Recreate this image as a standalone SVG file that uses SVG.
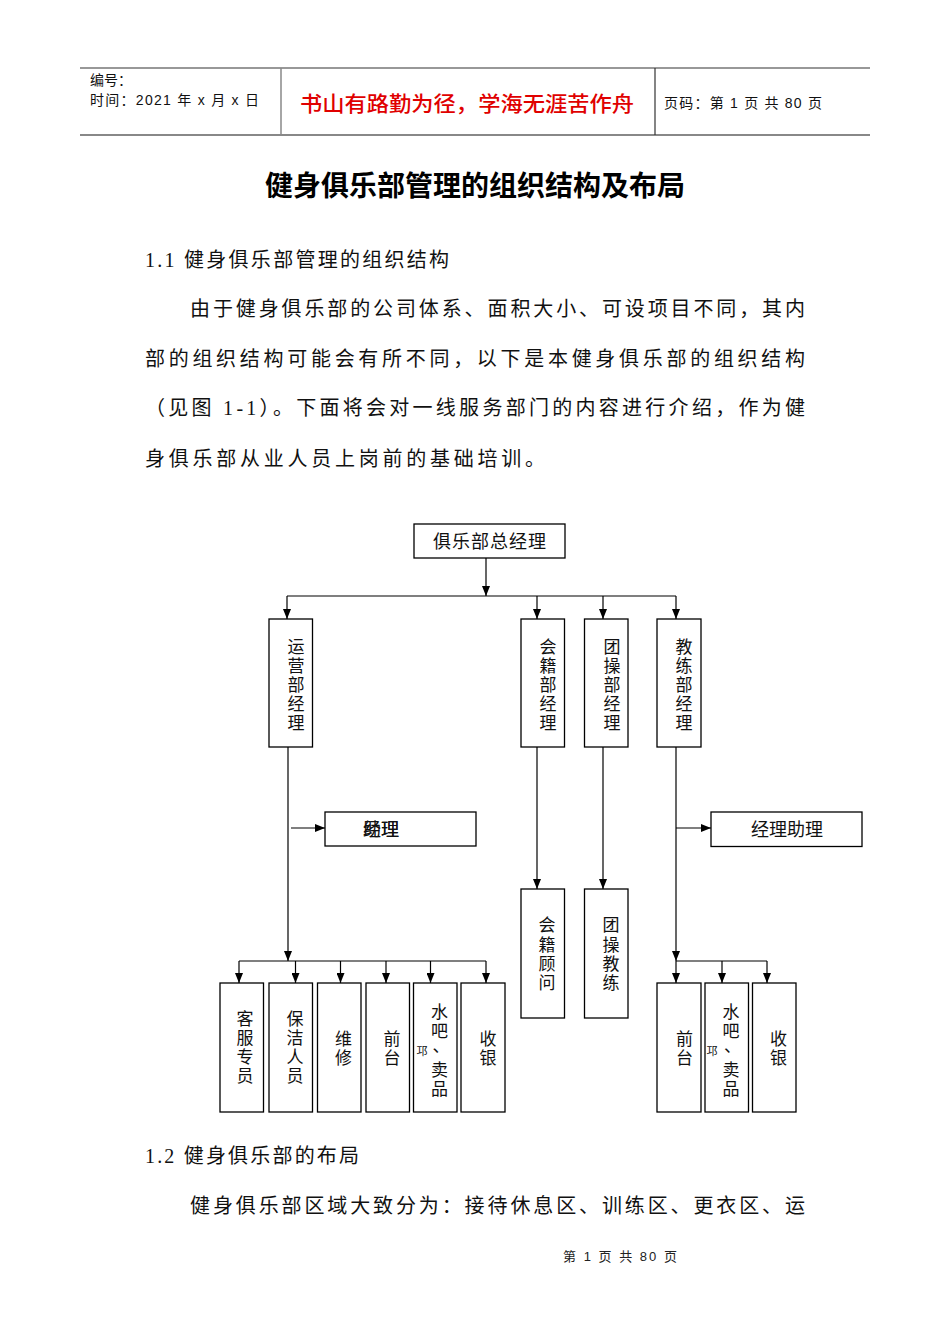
<svg xmlns="http://www.w3.org/2000/svg" width="950" height="1344" viewBox="0 0 950 1344">
<style>
.bg{fill:#fff}
.box{fill:#fff;stroke:#000;stroke-width:1.3}
.cn{font-family:"Noto Sans CJK SC",sans-serif;font-size:18px;fill:#111}
.vt{font-family:"Noto Sans CJK SC",sans-serif;font-size:17px;fill:#111;text-anchor:middle}
.body{font-family:"Liberation Serif","Noto Sans CJK SC",serif;font-size:20px;fill:#111}
.hd{font-family:"Liberation Sans","Noto Sans CJK SC",sans-serif;font-size:14px;fill:#111}
.conn{fill:none;stroke:#000;stroke-width:1.2}
</style>
<defs>
<marker id="arr" viewBox="0 0 10 8" refX="10" refY="4" markerWidth="10" markerHeight="8" markerUnits="userSpaceOnUse" orient="auto">
<path d="M0,0 L10,4 L0,8 z" fill="#000"/>
</marker>
</defs>
<rect class="bg" x="0" y="0" width="950" height="1344"/>

<g id="header">
<line x1="80" y1="68" x2="870" y2="68" stroke="#333" stroke-width="1.2"/>
<line x1="80" y1="135" x2="870" y2="135" stroke="#888" stroke-width="2"/>
<line x1="281" y1="68" x2="281" y2="135" stroke="#888" stroke-width="1.5"/>
<line x1="655" y1="68" x2="655" y2="135" stroke="#333" stroke-width="1.2"/>
<text class="hd" x="90" y="85">编号：</text>
<text class="hd" x="90" y="105" textLength="169" lengthAdjust="spacing">时间：2021 年 x 月 x 日</text>
<text x="300" y="111" textLength="334" lengthAdjust="spacingAndGlyphs" style="font-family:'Noto Sans CJK SC',sans-serif;font-size:21px;font-weight:500;fill:#e00000">书山有路勤为径，学海无涯苦作舟</text>
<text class="hd" x="664" y="108" textLength="158" lengthAdjust="spacing">页码：第 1 页  共 80 页</text>
</g>

<g id="title">
<text x="475" y="196" text-anchor="middle" style="font-family:'Noto Sans CJK SC',sans-serif;font-size:28px;font-weight:bold;fill:#000">健身俱乐部管理的组织结构及布局</text>
</g>

<g id="intro">
<text class="body" x="145" y="267" textLength="304" lengthAdjust="spacing">1.1 健身俱乐部管理的组织结构</text>
<text class="body" x="190" y="316" textLength="615" lengthAdjust="spacing">由于健身俱乐部的公司体系、面积大小、可设项目不同，其内</text>
<text class="body" x="145" y="366" textLength="660" lengthAdjust="spacing">部的组织结构可能会有所不同，以下是本健身俱乐部的组织结构</text>
<text class="body" x="145" y="415" textLength="660" lengthAdjust="spacing">（见图 1-1）。下面将会对一线服务部门的内容进行介绍，作为健</text>
<text class="body" x="145" y="466" textLength="400" lengthAdjust="spacing">身俱乐部从业人员上岗前的基础培训。</text>
</g>

<g id="connectors">
<line class="conn" x1="486" y1="558" x2="486" y2="596" marker-end="url(#arr)"/>
<line class="conn" x1="287" y1="596" x2="676" y2="596"/>
<line class="conn" x1="287" y1="596" x2="287" y2="619" marker-end="url(#arr)"/>
<line class="conn" x1="537" y1="596" x2="537" y2="619" marker-end="url(#arr)"/>
<line class="conn" x1="603" y1="596" x2="603" y2="619" marker-end="url(#arr)"/>
<line class="conn" x1="676" y1="596" x2="676" y2="619" marker-end="url(#arr)"/>
<line class="conn" x1="288" y1="747" x2="288" y2="961" marker-end="url(#arr)"/>
<line class="conn" x1="291" y1="828" x2="325" y2="828" marker-end="url(#arr)"/>
<line class="conn" x1="537" y1="747" x2="537" y2="889" marker-end="url(#arr)"/>
<line class="conn" x1="603" y1="747" x2="603" y2="889" marker-end="url(#arr)"/>
<line class="conn" x1="676" y1="747" x2="676" y2="961" marker-end="url(#arr)"/>
<line class="conn" x1="676" y1="828" x2="711" y2="828" marker-end="url(#arr)"/>
<line class="conn" x1="239" y1="961" x2="486" y2="961"/>
<line class="conn" x1="239" y1="961" x2="239" y2="983" marker-end="url(#arr)"/>
<line class="conn" x1="295.5" y1="961" x2="295.5" y2="983" marker-end="url(#arr)"/>
<line class="conn" x1="340.5" y1="961" x2="340.5" y2="983" marker-end="url(#arr)"/>
<line class="conn" x1="386" y1="961" x2="386" y2="983" marker-end="url(#arr)"/>
<line class="conn" x1="430.5" y1="961" x2="430.5" y2="983" marker-end="url(#arr)"/>
<line class="conn" x1="486" y1="961" x2="486" y2="983" marker-end="url(#arr)"/>
<line class="conn" x1="676" y1="961" x2="767" y2="961"/>
<line class="conn" x1="676" y1="961" x2="676" y2="983" marker-end="url(#arr)"/>
<line class="conn" x1="722" y1="961" x2="722" y2="983" marker-end="url(#arr)"/>
<line class="conn" x1="767" y1="961" x2="767" y2="983" marker-end="url(#arr)"/>
</g>

<g id="gm">
<rect class="box" x="414" y="524" width="151" height="34"/>
<text class="cn" x="490" y="548" text-anchor="middle" letter-spacing="1">俱乐部总经理</text>
</g>

<g id="yunying">
<rect class="box" x="269" y="619" width="43.5" height="128"/>
<text class="vt"><tspan x="296" y="653">运</tspan><tspan x="296" y="672">营</tspan><tspan x="296" y="691">部</tspan><tspan x="296" y="710">经</tspan><tspan x="296" y="729">理</tspan></text>
</g>
<g id="huiji">
<rect class="box" x="521" y="619" width="43.5" height="128"/>
<text class="vt"><tspan x="548" y="653">会</tspan><tspan x="548" y="672">籍</tspan><tspan x="548" y="691">部</tspan><tspan x="548" y="710">经</tspan><tspan x="548" y="729">理</tspan></text>
</g>
<g id="tuancao">
<rect class="box" x="584.5" y="619" width="43.5" height="128"/>
<text class="vt"><tspan x="612" y="653">团</tspan><tspan x="612" y="672">操</tspan><tspan x="612" y="691">部</tspan><tspan x="612" y="710">经</tspan><tspan x="612" y="729">理</tspan></text>
</g>
<g id="jiaolian">
<rect class="box" x="657" y="619" width="44" height="128"/>
<text class="vt"><tspan x="684" y="653">教</tspan><tspan x="684" y="672">练</tspan><tspan x="684" y="691">部</tspan><tspan x="684" y="710">经</tspan><tspan x="684" y="729">理</tspan></text>
</g>

<g id="assistant-left">
<rect class="box" x="325" y="812" width="151" height="34"/>
<text class="cn" x="363" y="836">经理</text>
<text class="cn" x="363" y="836">助理</text>
</g>
<g id="assistant-right">
<rect class="box" x="711" y="812" width="151" height="34.5"/>
<text class="cn" x="787" y="836" text-anchor="middle">经理助理</text>
</g>

<g id="huiji-guwen">
<rect class="box" x="521" y="889" width="43.5" height="129"/>
<text class="vt"><tspan x="547" y="931">会</tspan><tspan x="547" y="951">籍</tspan><tspan x="547" y="970">顾</tspan><tspan x="547" y="989">问</tspan></text>
</g>
<g id="tuancao-jiaolian">
<rect class="box" x="584.5" y="889" width="43.5" height="129"/>
<text class="vt"><tspan x="611" y="931">团</tspan><tspan x="611" y="951">操</tspan><tspan x="611" y="970">教</tspan><tspan x="611" y="989">练</tspan></text>
</g>

<g id="kefu">
<rect class="box" x="220" y="983" width="43.5" height="129"/>
<text class="vt"><tspan x="245" y="1025">客</tspan><tspan x="245" y="1044">服</tspan><tspan x="245" y="1063">专</tspan><tspan x="245" y="1082">员</tspan></text>
</g>
<g id="baojie">
<rect class="box" x="269" y="983" width="43.5" height="129"/>
<text class="vt"><tspan x="295" y="1025">保</tspan><tspan x="295" y="1044">洁</tspan><tspan x="295" y="1063">人</tspan><tspan x="295" y="1082">员</tspan></text>
</g>
<g id="weixiu">
<rect class="box" x="317.5" y="983" width="43.5" height="129"/>
<text class="vt"><tspan x="343.5" y="1045">维</tspan><tspan x="343.5" y="1064">修</tspan></text>
</g>
<g id="qiantai-1">
<rect class="box" x="366" y="983" width="43.5" height="129"/>
<text class="vt"><tspan x="392" y="1045">前</tspan><tspan x="392" y="1064">台</tspan></text>
</g>
<g id="shuiba-1">
<rect class="box" x="413.5" y="983" width="43.5" height="129"/>
<text class="vt"><tspan x="439.5" y="1018">水</tspan><tspan x="439.5" y="1037">吧</tspan><tspan x="441" y="1052">、</tspan><tspan x="439.5" y="1076">卖</tspan><tspan x="439.5" y="1095">品</tspan></text>
<text x="422" y="1055" text-anchor="middle" style="font-family:'Noto Sans CJK SC',sans-serif;font-size:11px;fill:#111">邛</text>
</g>
<g id="shouyin-1">
<rect class="box" x="461" y="983" width="44" height="129"/>
<text class="vt"><tspan x="488" y="1045">收</tspan><tspan x="488" y="1064">银</tspan></text>
</g>

<g id="qiantai-2">
<rect class="box" x="657" y="983" width="44" height="129"/>
<text class="vt"><tspan x="684.5" y="1045">前</tspan><tspan x="684.5" y="1064">台</tspan></text>
</g>
<g id="shuiba-2">
<rect class="box" x="705" y="983" width="43.5" height="129"/>
<text class="vt"><tspan x="731" y="1018">水</tspan><tspan x="731" y="1037">吧</tspan><tspan x="732.5" y="1052">、</tspan><tspan x="731" y="1076">卖</tspan><tspan x="731" y="1095">品</tspan></text>
<text x="712" y="1055" text-anchor="middle" style="font-family:'Noto Sans CJK SC',sans-serif;font-size:11px;fill:#111">邛</text>
</g>
<g id="shouyin-2">
<rect class="box" x="752.5" y="983" width="43.5" height="129"/>
<text class="vt"><tspan x="778.5" y="1045">收</tspan><tspan x="778.5" y="1064">银</tspan></text>
</g>

<g id="section2">
<text class="body" x="145" y="1163" textLength="214" lengthAdjust="spacing">1.2 健身俱乐部的布局</text>
<text class="body" x="190" y="1213" textLength="615" lengthAdjust="spacing">健身俱乐部区域大致分为：接待休息区、训练区、更衣区、运</text>
</g>

<g id="footer">
<text x="563" y="1261" textLength="114" lengthAdjust="spacing" style="font-family:'Liberation Sans','Noto Sans CJK SC',sans-serif;font-size:13px;fill:#222">第 1 页 共 80 页</text>
</g>
</svg>
